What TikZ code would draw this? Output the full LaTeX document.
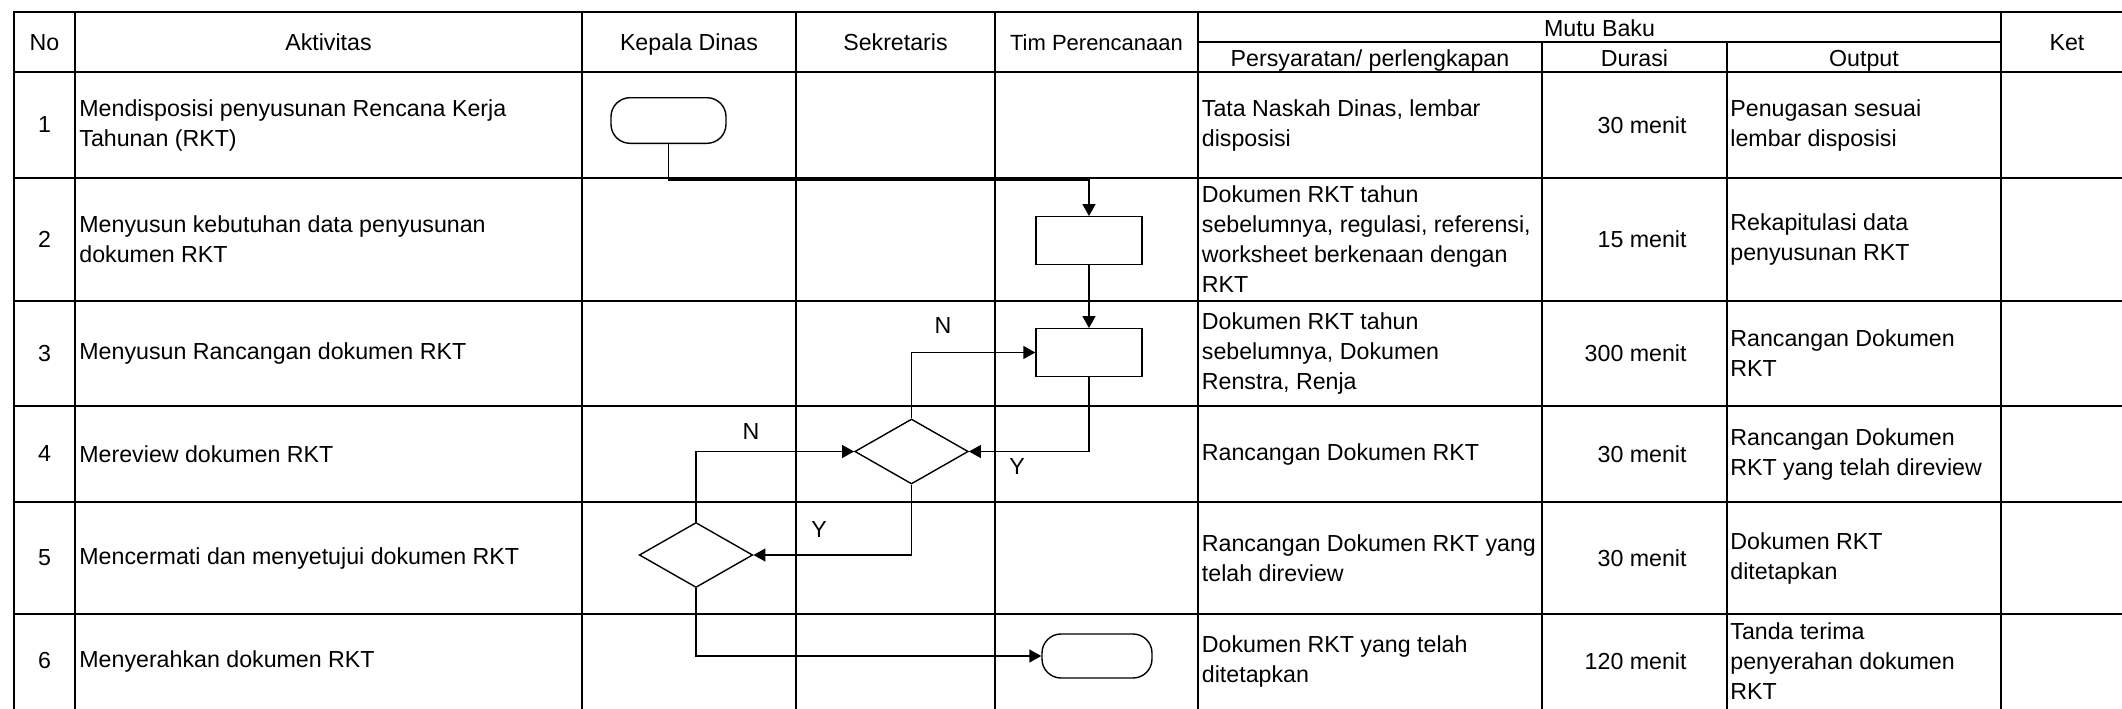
\documentclass[tikz,border=0pt]{standalone}
\usepackage{fontspec}
\setmainfont{Liberation Sans}
\usetikzlibrary{arrows.meta,shapes.geometric}
\begin{document}
\begin{tikzpicture}[x=0.5pt,y=-0.5pt,
  grid/.style={line width=1.05pt,line cap=rect},
  flow/.style={line width=0.7pt,-{Triangle[length=6pt,width=6.5pt]}},
  boxn/.style={draw,line width=0.7pt,rectangle,minimum width=53pt,minimum height=23.75pt,inner sep=0pt},
  term/.style={draw,line width=0.7pt,rectangle,rounded corners=9.5pt,inner sep=0pt},
  dec/.style={draw,line width=0.7pt,diamond,aspect=1.75,minimum width=56.75pt,minimum height=32.5pt,inner sep=0pt},
  hd/.style={anchor=base,inner sep=0pt},
  cell/.style={anchor=west,align=left,inner sep=0pt},
  dur/.style={anchor=east,inner sep=0pt},
  lbl/.style={inner sep=0pt},
  font=\fontsize{11.6pt}{15pt}\selectfont]
\useasboundingbox (0,0) rectangle (2122,708);
% grid
\draw[grid] (14,12) -- (2122,12);
\draw[grid] (1198,42) -- (2001,42);
\foreach \y in {72,178,301,406,502,614} \draw[grid] (14,\y) -- (2122,\y);
\foreach \x in {14,75,582,796,995,1198,2001} \draw[grid] (\x,12) -- (\x,708);
\foreach \x in {1542,1727} \draw[grid] (\x,42) -- (\x,708);
% headers
\node[hd] (hNo) at (44.5,50) {No};
\node[hd] (hAkt) at (328.5,50) {Aktivitas};
\node[hd] (hKD) at (689,50) {Kepala Dinas};
\node[hd] (hSk) at (895.5,50) {Sekretaris};
\node[hd,font=\fontsize{11pt}{15pt}\selectfont] (hTP) at (1096.5,50) {Tim Perencanaan};
\node[hd] (hMB) at (1599.5,36.5) {Mutu Baku};
\node[hd] (hPr) at (1370,66.5) {Persyaratan/ perlengkapan};
\node[hd] (hDu) at (1634.5,66.5) {Durasi};
\node[hd] (hOu) at (1864,66.5) {Output};
\node[hd] (hKet) at (2067,50) {Ket};
% numbers
\node (n1) at (44.5,125) {1};
\node (n2) at (44.5,239.5) {2};
\node (n3) at (44.5,353.5) {3};
\node (n4) at (44.5,454) {4};
\node (n5) at (44.5,558) {5};
\node (n6) at (44.5,661) {6};
% activities
\node[cell] (a1) at (79,125) {Mendisposisi penyusunan Rencana Kerja\\Tahunan (RKT)};
\node[cell] (a2) at (79,239.5) {Menyusun kebutuhan data penyusunan\\dokumen RKT};
\node[cell] (a3) at (79,353.5) {Menyusun Rancangan dokumen RKT};
\node[cell] (a4) at (79,454) {Mereview dokumen RKT};
\node[cell] (a5) at (79,558) {Mencermati dan menyetujui dokumen RKT};
\node[cell] (a6) at (79,661) {Menyerahkan dokumen RKT};
% persyaratan
\node[cell] (p1) at (1201.5,125) {Tata Naskah Dinas, lembar\\disposisi};
\node[cell] (p2) at (1201.5,239.5) {Dokumen RKT tahun\\sebelumnya, regulasi, referensi,\\worksheet berkenaan dengan\\RKT};
\node[cell] (p3) at (1201.5,353.5) {Dokumen RKT tahun\\sebelumnya, Dokumen\\Renstra, Renja};
\node[cell] (p4) at (1201.5,454) {Rancangan Dokumen RKT};
\node[cell] (p5) at (1201.5,558) {Rancangan Dokumen RKT yang\\telah direview};
\node[cell] (p6) at (1201.5,661) {Dokumen RKT yang telah\\ditetapkan};
% durasi
\node[dur] (u1) at (1687,125) {30 menit};
\node[dur] (u2) at (1687,239.5) {15 menit};
\node[dur] (u3) at (1687,353.5) {300 menit};
\node[dur] (u4) at (1687,454) {30 menit};
\node[dur] (u5) at (1687,558) {30 menit};
\node[dur] (u6) at (1687,661) {120 menit};
% output
\node[cell] (o1) at (1730,125) {Penugasan sesuai\\lembar disposisi};
\node[cell] (o2) at (1730,239.5) {Rekapitulasi data\\penyusunan RKT};
\node[cell] (o3) at (1730,353.5) {Rancangan Dokumen\\RKT};
\node[cell] (o4) at (1730,454) {Rancangan Dokumen\\RKT yang telah direview};
\node[cell] (o5) at (1730,558) {Dokumen RKT\\ditetapkan};
\node[cell] (o6) at (1730,661) {Tanda terima\\penyerahan dokumen\\RKT};
% flow shapes
\node[term,minimum width=57.5pt,minimum height=22.8pt] (t1) at (668.5,120.5) {};
\node[boxn] (r2) at (1089,240.5) {};
\node[boxn] (r3) at (1089,352.5) {};
\node[dec] (d1) at (911.5,451.5) {};
\node[dec] (d2) at (696,555) {};
\node[term,minimum width=55pt,minimum height=22pt] (t2) at (1097,656) {};
\coordinate (k1) at (0,180);
% connectors
\draw[flow] (t1.south) -- (t1.south |- k1) -| (r2.north);
\draw[flow] (r2.south) -- (r3.north);
\draw[flow] (d1.north) |- (r3.west);
\draw[flow] (r3.south) |- (d1.east);
\draw[flow] (d2.north) |- (d1.west);
\draw[flow] (d1.south) |- (d2.east);
\draw[flow] (d2.south) |- (t2.west);
% labels
\node[lbl] (lN1) at (943,326) {N};
\node[lbl] (lN2) at (751,432) {N};
\node[lbl] (lY1) at (1017,466.5) {Y};
\node[lbl] (lY2) at (819,529.5) {Y};
\end{tikzpicture}
\end{document}
